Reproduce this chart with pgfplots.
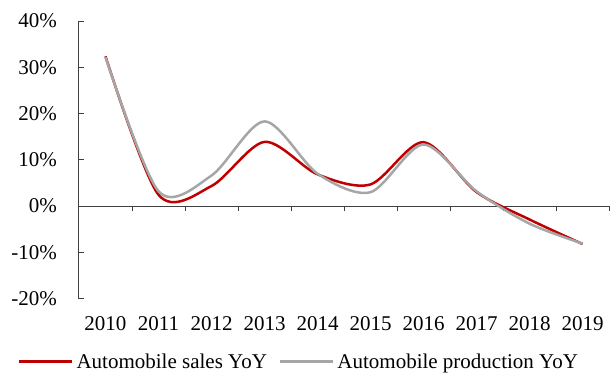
\documentclass[border=0pt]{standalone}
\usepackage{pgfplots}
\pgfplotsset{compat=1.18}
\usepackage{fontspec}
\setmainfont{Liberation Serif}
\definecolor{salesred}{HTML}{C00000}
\definecolor{prodgray}{HTML}{A6A6A6}
\definecolor{axisgray}{HTML}{404040}
\begin{document}
\begin{tikzpicture}[font=\fontsize{21}{24}\selectfont]
\begin{axis}[
  name=ax,
  scale only axis,
  width=530pt, height=277.6pt,
  xmin=0, xmax=10, ymin=-20, ymax=40,
  axis lines*=left,
  x axis line style={draw=none},
  y axis line style={axisgray, line width=1pt},
  xtick={0.5,1.5,...,9.5},
  xticklabels={2010,2011,2012,2013,2014,2015,2016,2017,2018,2019},
  xtick style={draw=none},
  xticklabel style={inner sep=0pt, yshift=-18pt, anchor=north},
  ytick={-20,-10,0,10,20,30,40},
  yticklabel={\pgfmathprintnumber{\tick}\%},
  yticklabel style={inner sep=0pt, anchor=east, xshift=-22pt},
  ytick style={axisgray, line width=1pt},
  tick align=inside,
  major tick length=5pt,
  /pgf/number format/assume math mode=true,
  clip=false,
  legend columns=2,
  legend style={draw=none, fill=none, inner sep=0pt, outer sep=0pt,
    at={(-0.115,-0.227)}, anchor=west,
    font=\fontsize{21}{24}\selectfont,
    nodes={inner sep=3pt},
    /tikz/every even column/.append style={column sep=9pt}},
  legend image code/.code={\draw[#1] (0pt,0pt) -- (53pt,0pt);},
]
\draw[axisgray, line width=1pt] (axis cs:0,0) -- (axis cs:10,0);
\pgfplotsinvokeforeach{1,...,10}{
  \draw[axisgray, line width=1pt] (axis cs:#1,0) -- ([yshift=-5pt]axis cs:#1,0);
}
\addplot[salesred, line width=2.5pt, smooth, tension=0.5] coordinates {
 (0.5,32.37) (1.5,2.45) (2.5,4.33) (3.5,13.87) (4.5,6.86)
 (5.5,4.68) (6.5,13.8) (7.5,3.04) (8.5,-2.9) (9.5,-8.2)};
\addlegendentry{Automobile sales YoY}
\addplot[prodgray, line width=2.5pt, smooth, tension=0.5] coordinates {
 (0.5,32.2) (1.5,3.2) (2.5,6.6) (3.5,18.3) (4.5,7.0)
 (5.5,3.0) (6.5,13.3) (7.5,3.2) (8.5,-3.8) (9.5,-8.1)};
\addlegendentry{Automobile production YoY}
\end{axis}
\path ([shift={(-79pt,-76pt)}]ax.south west) rectangle ([shift={(6pt,21pt)}]ax.north east);
\end{tikzpicture}
\end{document}
